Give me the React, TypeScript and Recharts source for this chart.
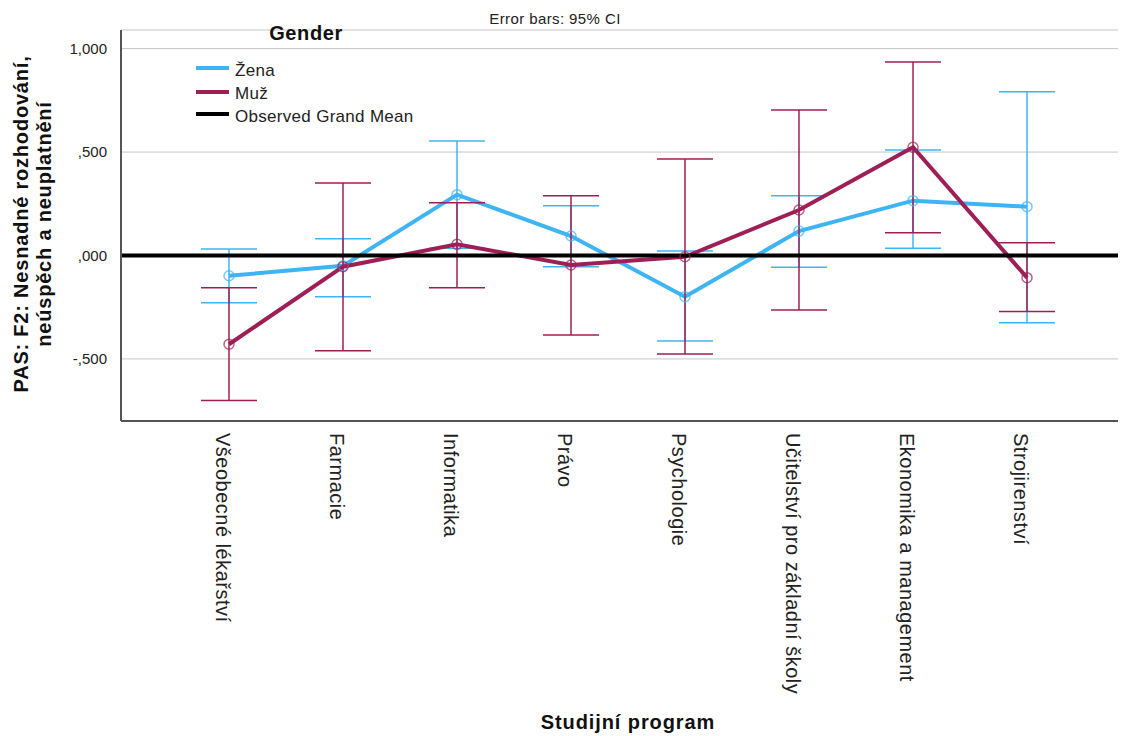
import { LineChart, Line, XAxis, YAxis, CartesianGrid, ErrorBar, ReferenceLine } from 'recharts'

const programs = [
  'Všeobecné lékařství',
  'Farmacie',
  'Informatika',
  'Právo',
  'Psychologie',
  'Učitelství pro základní školy',
  'Ekonomika a management',
  'Strojirenství',
]

// estimated marginal means with 95% CI bounds
const zenaMean = [-0.098, -0.05, 0.294, 0.094, -0.199, 0.118, 0.265, 0.236]
const zenaLow = [-0.228, -0.199, 0.035, -0.054, -0.413, -0.057, 0.035, -0.325]
const zenaHigh = [0.031, 0.081, 0.553, 0.241, 0.022, 0.289, 0.51, 0.791]

const muzMean = [-0.429, -0.054, 0.054, -0.046, -0.006, 0.22, 0.523, -0.107]
const muzLow = [-0.701, -0.46, -0.156, -0.384, -0.476, -0.263, 0.11, -0.271]
const muzHigh = [-0.156, 0.35, 0.255, 0.289, 0.466, 0.703, 0.935, 0.062]

const grandMean = 0
const yTicks = [-0.5, 0, 0.5, 1]

const ZENA = '#3fb4f3'
const MUZ = '#9e1f55'
const FONT = '"Liberation Sans", Arial, sans-serif'

const data = programs.map((p, i) => ({
  program: p,
  zena: zenaMean[i],
  zenaErr: [zenaMean[i] - zenaLow[i], zenaHigh[i] - zenaMean[i]],
  muz: muzMean[i],
  muzErr: [muzMean[i] - muzLow[i], muzHigh[i] - muzMean[i]],
}))

// SPSS style: comma decimal, no leading zero
function fmtTick(v: number) {
  const s = Math.abs(v).toFixed(3).replace('.', ',')
  const t = s.startsWith('0') ? s.slice(1) : s
  return v < 0 ? '-' + t : t
}

function ProgramTick({ x, y, payload }: any) {
  return (
    <text
      transform={`translate(${x - 6},${y + 4}) rotate(90)`}
      textAnchor="start"
      dominantBaseline="central"
      fontFamily={FONT}
      fontSize={20}
      letterSpacing={0.5}
      fill="#222"
    >
      {payload.value}
    </text>
  )
}

function OpenDot({ color }: { color: string }) {
  return (props: any) => (
    <circle
      key={props.index}
      cx={props.cx}
      cy={props.cy}
      r={5}
      fill="none"
      stroke={color}
      strokeWidth={1.5}
      strokeOpacity={0.7}
    />
  )
}

export default function App() {
  return (
    <div style={{ position: 'relative', width: 1121, height: 736, background: '#fff' }}>
      <style>{'body{margin:0}'}</style>
      <LineChart
        width={1121}
        height={736}
        data={data}
        margin={{ top: 30, right: 3, left: 61, bottom: 20 }}
      >
        <CartesianGrid horizontal vertical={false} stroke="#c6c6c6" strokeWidth={1} />
        <XAxis
          dataKey="program"
          padding={{ left: 108, right: 91 }}
          height={295}
          interval={0}
          tickLine={false}
          axisLine={{ stroke: '#555', strokeWidth: 2 }}
          tick={<ProgramTick />}
        />
        <YAxis
          type="number"
          domain={[-0.8, 1.09]}
          ticks={yTicks}
          width={60}
          tickLine={false}
          axisLine={{ stroke: '#555', strokeWidth: 2 }}
          tickFormatter={fmtTick}
          tickMargin={8}
          tick={{ fontFamily: FONT, fontSize: 15, fill: '#222' }}
        />
        <Line
          dataKey="zena"
          stroke={ZENA}
          strokeWidth={4}
          dot={OpenDot({ color: ZENA })}
          activeDot={false}
          isAnimationActive={false}
        >
          <ErrorBar dataKey="zenaErr" width={28} stroke={ZENA} strokeWidth={1.5} direction="y" />
        </Line>
        <Line
          dataKey="muz"
          stroke={MUZ}
          strokeWidth={4}
          dot={OpenDot({ color: MUZ })}
          activeDot={false}
          isAnimationActive={false}
        >
          <ErrorBar dataKey="muzErr" width={28} stroke={MUZ} strokeWidth={1.5} direction="y" />
        </Line>
        <ReferenceLine y={grandMean} stroke="#000" strokeWidth={4} />
      </LineChart>
      <svg
        width={1121}
        height={736}
        style={{ position: 'absolute', left: 0, top: 0, pointerEvents: 'none' }}
      >
        <g fontFamily={FONT}>
          <text x={555} y={24} textAnchor="middle" fontSize={15} letterSpacing={0.4} fill="#222">
            Error bars: 95% CI
          </text>
          <text
            transform="translate(32,224) rotate(-90)"
            textAnchor="middle"
            fontSize={20}
            fontWeight="bold"
            fill="#111"
            letterSpacing={0.8}
          >
            <tspan x={0} dy={-4}>PAS: F2: Nesnadné rozhodování,</tspan>
            <tspan x={0} dy={23}>neúspěch a neuplatnění</tspan>
          </text>
          <text x={628} y={729} textAnchor="middle" fontSize={20} fontWeight="bold" fill="#111" letterSpacing={0.9}>
            Studijní program
          </text>
          <text x={306} y={40} textAnchor="middle" fontSize={20} fontWeight="bold" fill="#111" letterSpacing={0.6}>
            Gender
          </text>
          <line x1={196} x2={229} y1={68} y2={68} stroke={ZENA} strokeWidth={4} />
          <text x={235} y={76} fontSize={17} letterSpacing={0.3} fill="#222">Žena</text>
          <line x1={196} x2={229} y1={92} y2={92} stroke={MUZ} strokeWidth={4} />
          <text x={235} y={99} fontSize={17} letterSpacing={0.3} fill="#222">Muž</text>
          <line x1={196} x2={229} y1={114} y2={114} stroke="#000" strokeWidth={4} />
          <text x={235} y={122} fontSize={17} letterSpacing={0.3} fill="#222">Observed Grand Mean</text>
        </g>
      </svg>
    </div>
  )
}
